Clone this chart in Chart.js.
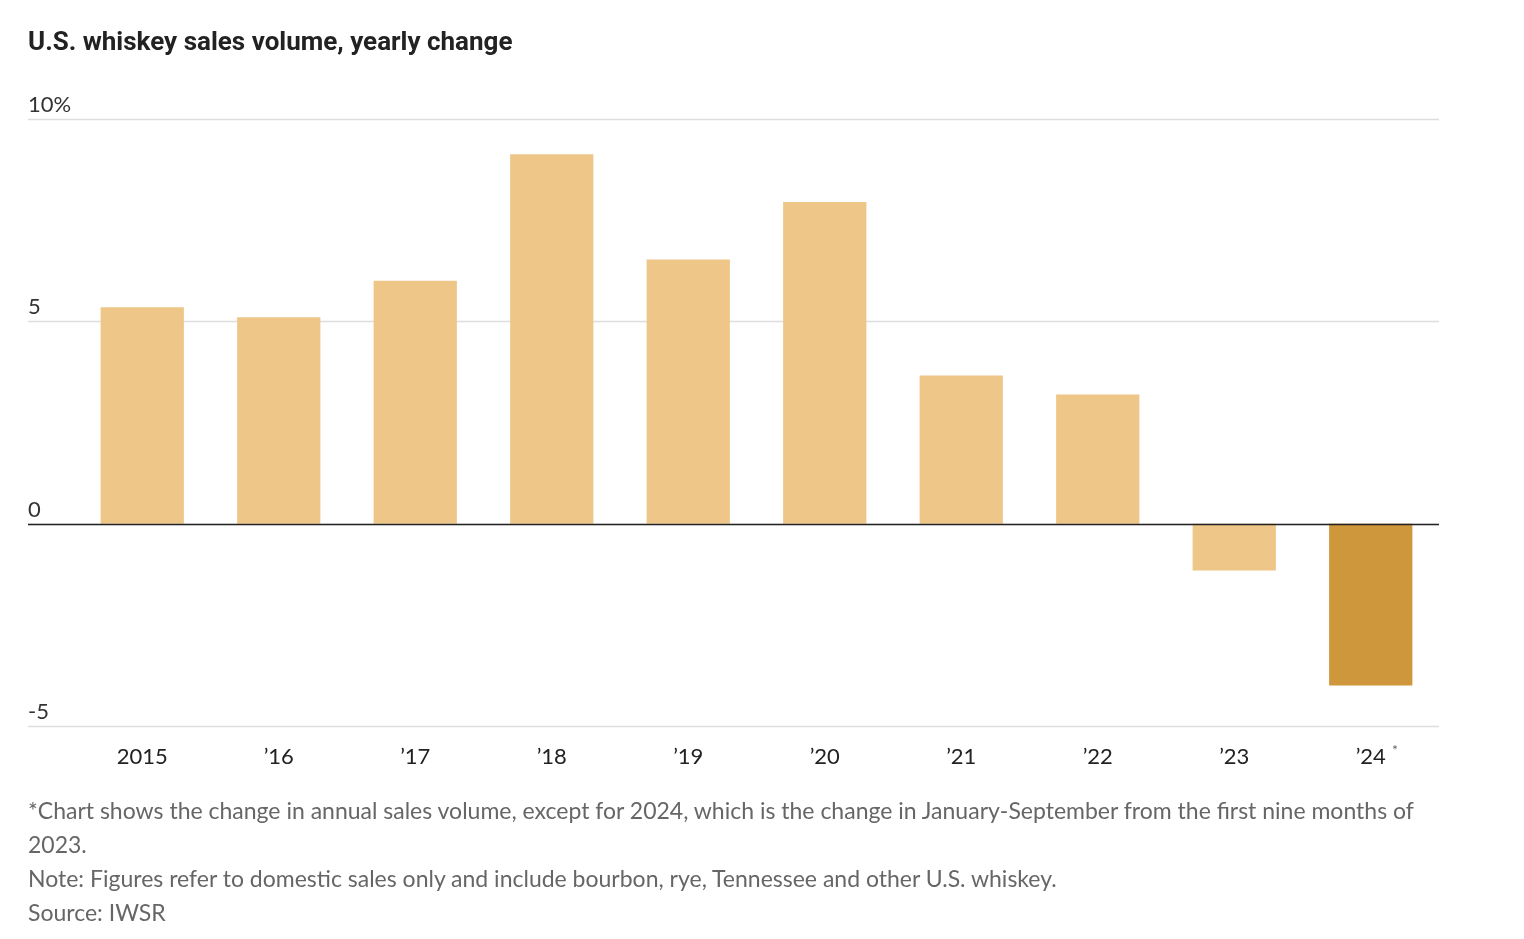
<!DOCTYPE html>
<html><head><meta charset="utf-8">
<script src="https://cdn.jsdelivr.net/npm/chart.js@4"></script>
<style>
html,body{margin:0;padding:0;background:#fff;width:1524px;height:939px;overflow:hidden;font-family:Lato,"Noto Sans",sans-serif}
#wrap{position:absolute;left:0;top:0;width:1524px;height:939px}
.t{position:absolute;left:28px;top:26px;font:bold 26px Roboto,sans-serif;color:#222}
.n{position:absolute;left:28px;font-size:23px;color:#666;line-height:34px}
</style></head><body>
<div id="wrap"><canvas id="c" width="1524" height="939"></canvas></div>
<div class="t">U.S. whiskey sales volume, yearly change</div>
<div class="n" style="top:793px;width:1420px">*Chart shows the change in annual sales volume, except for 2024, which is the change in January-September from the first nine months of 2023.<br>Note: Figures refer to domestic sales only and include bourbon, rye, Tennessee and other U.S. whiskey.<br>Source: IWSR</div>
<script>
const categories=["2015","’16","’17","’18","’19","’20","’21","’22","’23","’24*"];
const values=[5.35,5.1,6.0,9.13,6.53,7.95,3.66,3.19,-1.16,-4.0];
const yTicks=[10,5,0,-5];
const yTickLabels=["10%","5","0","-5"];
const colors=values.map((v,i)=>i===values.length-1?"#CF973C":"#EEC688");
const deco={id:"deco",beforeDatasetsDraw(ch){const c=ch.ctx,y=ch.scales.y,a=ch.chartArea;c.save();
yTicks.forEach((t,i)=>{const py=Math.round(y.getPixelForValue(t))+0.5;c.strokeStyle="#ddd";c.lineWidth=1.5;c.beginPath();c.moveTo(28,py);c.lineTo(a.right,py);c.stroke();
c.fillStyle="#333";c.font="22px Lato, sans-serif";c.textBaseline="bottom";c.textAlign="left";c.fillText(yTickLabels[i],28,py-4);});c.restore();},
afterDatasetsDraw(ch){const c=ch.ctx,y=ch.scales.y,x=ch.scales.x,a=ch.chartArea;c.save();const py=Math.round(y.getPixelForValue(0))+0.5;
c.strokeStyle="#222";c.lineWidth=1.5;c.beginPath();c.moveTo(28,py);c.lineTo(a.right,py);c.stroke();
c.fillStyle="#222";c.font="22px Lato, sans-serif";c.textAlign="center";c.textBaseline="middle";
categories.forEach((l,i)=>{const px=x.getPixelForValue(i);if(l.endsWith("*")){c.fillText(l.slice(0,-1),px,757);c.font="14px Lato";c.fillStyle="#666";c.textAlign="left";c.fillText("*",px+c.measureText("’24").width+2,750);c.font="22px Lato, sans-serif";c.fillStyle="#222";c.textAlign="center";}else c.fillText(l,px,757);});c.restore();}};
new Chart(document.getElementById("c"),{type:"bar",data:{labels:categories,datasets:[{data:values,backgroundColor:colors,categoryPercentage:1,barPercentage:0.61}]},
options:{responsive:false,animation:false,layout:{padding:{left:74,right:85,top:119,bottom:213}},
plugins:{legend:{display:false},tooltip:{enabled:false}},
scales:{x:{display:false},y:{display:false,min:-5,max:10}}},plugins:[deco]});
</script></body></html>
